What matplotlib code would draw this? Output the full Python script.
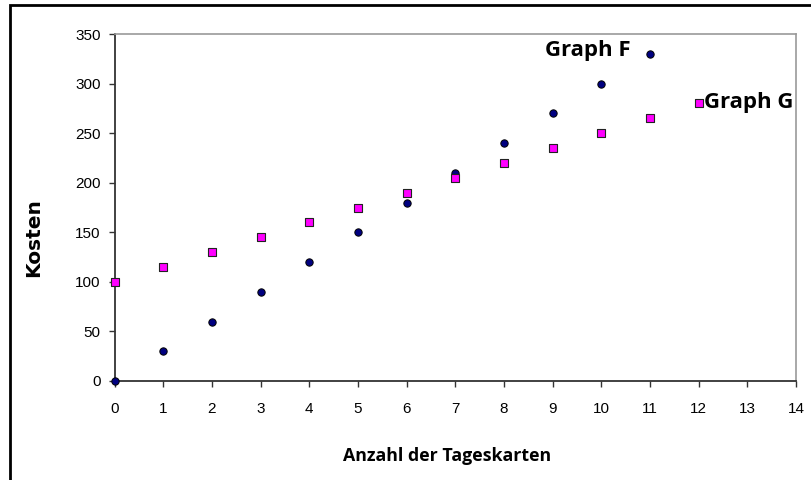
import matplotlib.pyplot as plt
from matplotlib.patches import Rectangle

# data
tage_f = [0, 1, 2, 3, 4, 5, 6, 7, 8, 9, 10, 11]
kosten_f = [0, 30, 60, 90, 120, 150, 180, 210, 240, 270, 300, 330]

tage_g = [0, 1, 2, 3, 4, 5, 6, 7, 8, 9, 10, 11, 12]
kosten_g = [100, 115, 130, 145, 160, 175, 190, 205, 220, 235, 250, 265, 280]

x_ticks = list(range(0, 15))
y_ticks = [0, 50, 100, 150, 200, 250, 300, 350]

label_font = 'Open Sans'
tick_font = 'Liberation Sans'

fig = plt.figure(figsize=(8.11, 4.8), dpi=100)
ax = fig.add_axes([114.5 / 811, 1 - 381 / 480, (796 - 114.5) / 811, (381 - 34) / 480])

ax.scatter(tage_f, kosten_f, s=28, marker='o', facecolor='#000080',
           edgecolor='#000000', linewidths=0.7, zorder=3, clip_on=False)
ax.scatter(tage_g, kosten_g, s=28, marker='s', facecolor='#FF00FF',
           edgecolor='#222222', linewidths=0.8, zorder=3, clip_on=False)

ax.set_xlim(0, 14)
ax.set_ylim(0, 350)
ax.set_xticks(x_ticks)
ax.set_yticks(y_ticks)

for side in ['left', 'bottom']:
    ax.spines[side].set_color('#333333')
    ax.spines[side].set_linewidth(1.3)
for side in ['top', 'right']:
    ax.spines[side].set_color('#999999')
    ax.spines[side].set_linewidth(1.2)

ax.tick_params(axis='y', direction='out', length=4, width=1, color='#333333', pad=6)
ax.tick_params(axis='x', direction='out', length=4, width=1, color='#333333', pad=11)
for lbl in ax.get_xticklabels() + ax.get_yticklabels():
    lbl.set_fontfamily(tick_font)
    lbl.set_fontsize(11)

# axis titles placed where they are in the reference
fig.text(34 / 811, 1 - 238 / 480, 'Kosten', rotation=90, ha='center', va='center',
         fontsize=14.5, fontweight='bold', family='DejaVu Sans')
fig.text(447 / 811, 1 - 456 / 480, 'Anzahl der Tageskarten', ha='center', va='center',
         fontsize=12.8, fontweight='bold', family=label_font)

# series labels next to their last point
ax.annotate('Graph F', xy=(tage_f[-1], kosten_f[-1]), xytext=(-19, 3), textcoords='offset pixels',
            ha='right', va='center', fontsize=16, fontweight='bold', family=label_font)
ax.annotate('Graph G', xy=(tage_g[-1], kosten_g[-1]), xytext=(5, 1), textcoords='offset pixels',
            ha='left', va='center', fontsize=16, fontweight='bold', family=label_font,
            annotation_clip=False)

# outer chart border (only left and top visible in the reference)
fig.patches.append(Rectangle((9.5 / 811, -0.1), 1.2, 1 - 5 / 480 + 0.1, transform=fig.transFigure,
                             fill=False, edgecolor='black', linewidth=2))

fig.savefig('out.png', dpi=100)
